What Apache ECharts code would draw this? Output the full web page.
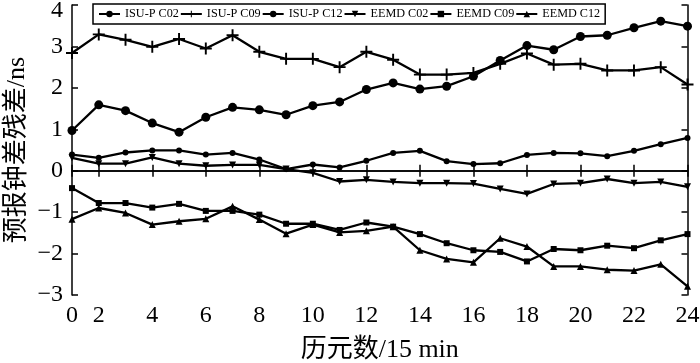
<!DOCTYPE html>
<html>
<head>
<meta charset="utf-8">
<script src="https://cdn.jsdelivr.net/npm/echarts@6/dist/echarts.min.js"></script>
<style>
  html, body { margin: 0; padding: 0; background: #fff; }
  #chart { width: 700px; height: 363px; }
</style>
</head>
<body>
<div id="chart"></div>
<script>
// epochs 1..24, the first one is printed as "0" in the original figure
const categories = ['0', '2', '3', '4', '5', '6', '7', '8', '9', '10', '11', '12',
  '13', '14', '15', '16', '17', '18', '19', '20', '21', '22', '23', '24'];

const isuC02 = [0.39, 0.31, 0.44, 0.49, 0.49, 0.39, 0.43, 0.27, 0.04, 0.15, 0.08, 0.24,
  0.43, 0.48, 0.23, 0.16, 0.18, 0.38, 0.43, 0.42, 0.35, 0.48, 0.64, 0.79];
const isuC09 = [2.84, 3.29, 3.16, 2.99, 3.18, 2.95, 3.27, 2.87, 2.70, 2.70, 2.50, 2.87,
  2.68, 2.32, 2.32, 2.36, 2.58, 2.83, 2.56, 2.58, 2.42, 2.42, 2.50, 2.08];
const isuC12 = [0.97, 1.59, 1.45, 1.15, 0.93, 1.29, 1.53, 1.47, 1.35, 1.57, 1.66, 1.96,
  2.12, 1.97, 2.04, 2.28, 2.66, 3.02, 2.92, 3.24, 3.27, 3.45, 3.61, 3.49];
const eemdC02 = [0.31, 0.17, 0.17, 0.32, 0.17, 0.12, 0.14, 0.14, 0.04, -0.05, -0.26, -0.22,
  -0.27, -0.30, -0.30, -0.31, -0.44, -0.56, -0.32, -0.30, -0.20, -0.30, -0.27, -0.39];
const eemdC09 = [-0.42, -0.78, -0.78, -0.89, -0.80, -0.97, -0.97, -1.06, -1.28, -1.28, -1.43, -1.25,
  -1.35, -1.53, -1.75, -1.92, -1.96, -2.19, -1.89, -1.92, -1.81, -1.87, -1.68, -1.53];
const eemdC12 = [-1.17, -0.90, -1.02, -1.30, -1.22, -1.16, -0.86, -1.18, -1.52, -1.30, -1.49, -1.45,
  -1.35, -1.92, -2.13, -2.21, -1.63, -1.83, -2.31, -2.31, -2.39, -2.41, -2.26, -2.79];

const serif = 'Liberation Serif';
const cjk = '"Liberation Serif", "Noto Sans CJK SC"';
const plusSymbol = 'path://M0,4.2h10v1.6h-10z M4.2,0h1.6v10h-1.6z';

const chart = echarts.init(document.getElementById('chart'));

const showTick = (i, v) => Number(v) % 2 === 0;

const xBase = {
  type: 'category',
  data: categories,
  boundaryGap: false,
  axisLine: { lineStyle: { color: '#000', width: 1.5 } },
  axisTick: { inside: true, length: 6, interval: showTick, lineStyle: { color: '#000', width: 1.5 } },
  splitLine: { show: false }
};
const yBase = {
  type: 'value',
  min: -3,
  max: 4,
  interval: 1,
  axisLine: { show: true, lineStyle: { color: '#000', width: 1.5 } },
  axisTick: { show: true, inside: true, length: 6, lineStyle: { color: '#000', width: 1.5 } },
  splitLine: { show: false }
};

function line(name, data, symbol, size) {
  return {
    name: name,
    type: 'line',
    data: data,
    symbol: symbol,
    symbolSize: size,
    showAllSymbol: true,
    lineStyle: { color: '#000', width: 2.3 },
    itemStyle: { color: '#000' },
    emphasis: { disabled: true },
    animation: false
  };
}

chart.setOption({
  backgroundColor: '#fff',
  grid: { left: 72, right: 12.5, top: 5, bottom: 68, outerBoundsMode: 'none', containLabel: false },
  legend: {
    left: 93,
    top: 4,
    padding: [4, 5],
    itemWidth: 21,
    itemHeight: 8,
    itemGap: 1,
    backgroundColor: '#fff',
    borderColor: '#000',
    borderWidth: 1.5,
    textStyle: { fontFamily: serif, fontSize: 12.2, color: '#000' },
    data: ['ISU-P C02', 'ISU-P C09', 'ISU-P C12', 'EEMD C02', 'EEMD C09', 'EEMD C12']
  },
  xAxis: [
    Object.assign({}, xBase, {
      name: '历元数/15 min',
      nameLocation: 'middle',
      nameGap: 42,
      nameMoveOverlap: false,
      nameTextStyle: { fontFamily: cjk, fontSize: 26, color: '#000' },
      axisLabel: {
        interval: showTick,
        fontFamily: serif, fontSize: 24, color: '#000', margin: 9
      }
    }),
    Object.assign({}, xBase, { position: 'top', axisLabel: { show: false } })
  ],
  yAxis: [
    Object.assign({}, yBase, {
      name: '预报钟差残差/ns',
      nameLocation: 'middle',
      nameGap: 42,
      nameMoveOverlap: false,
      nameRotate: 90,
      nameTextStyle: { fontFamily: cjk, fontSize: 26, color: '#000' },
      axisLabel: {
        fontFamily: serif, fontSize: 24, color: '#000', margin: 9,
        formatter: v => (v === 4 ? '{top|4}' : v < 0 ? '\u2212' + Math.abs(v) : String(v)),
        rich: {
          top: { fontFamily: serif, fontSize: 24, color: '#000', padding: [12, 0, 0, 0] }
        }
      }
    }),
    Object.assign({}, yBase, { position: 'right', axisLabel: { show: false } })
  ],
  series: [
    line('ISU-P C02', isuC02, 'circle', 6),
    line('ISU-P C09', isuC09, plusSymbol, 12),
    line('ISU-P C12', isuC12, 'circle', 9),
    line('EEMD C02', eemdC02, 'path://M0,0h10l-5,9z', 7),
    line('EEMD C09', eemdC09, 'rect', 6),
    line('EEMD C12', eemdC12, 'triangle', 7)
  ]
});
</script>
</body>
</html>
